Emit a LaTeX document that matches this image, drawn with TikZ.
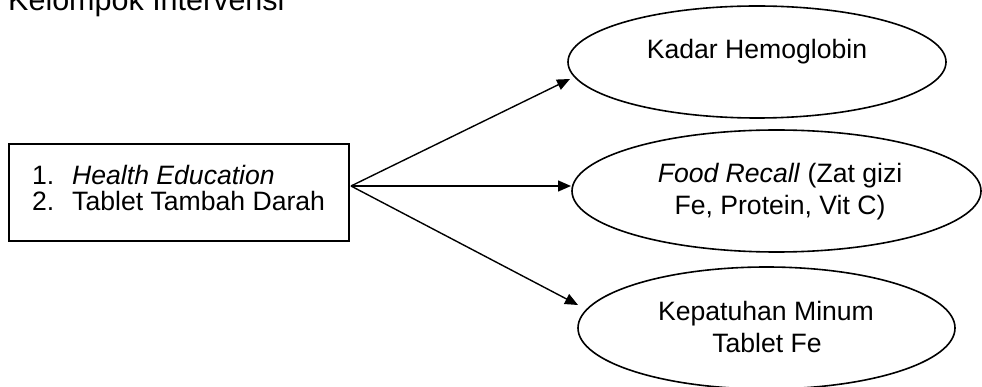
\documentclass[tikz,border=0pt]{standalone}
\usepackage{fontspec}
\setmainfont{Liberation Sans}
\usetikzlibrary{shapes.geometric,arrows.meta}
\begin{document}
\begin{tikzpicture}[x=1pt,y=-1pt,
  oval/.style={draw,ellipse,line width=1.6pt,inner sep=0pt},
  txt/.style={inner sep=0pt,anchor=base,font=\fontsize{26.6}{30}\selectfont},
  ltxt/.style={inner sep=0pt,anchor=base west,font=\fontsize{26.6}{30}\selectfont},
  arr/.style={line width=1.4pt,-{Triangle[length=13pt,width=11pt]}}]
\useasboundingbox (0,0) rectangle (982,387);
% title
\node[inner sep=0pt,anchor=base west,font=\fontsize{30.5}{34}\selectfont] (title) at (8,11) {Kelompok Intervensi};
% box
\node[draw,line width=2pt,minimum width=340pt,minimum height=97pt,inner sep=0pt] (box) at (179,192.5) {};
\node[ltxt] (n1) at (32,185) {1.};
\node[ltxt] (l1) at (72,185) {\itshape Health Education};
\node[ltxt] (n2) at (32,211) {2.};
\node[ltxt] (l2) at (72,211) {Tablet Tambah Darah};
% ellipses
\node[oval,minimum width=378pt,minimum height=112pt] (e1) at (757,62) {};
\node[oval,minimum width=409pt,minimum height=122pt] (e2) at (776.5,191) {};
\node[oval,minimum width=377pt,minimum height=122pt] (e3) at (766.5,328) {};
\node[txt] (t1) at (757,59) {Kadar Hemoglobin};
\node[txt] (t2a) at (780,183) {\textit{Food Recall} (Zat gizi};
\node[txt] (t2b) at (780,215) {Fe, Protein, Vit C)};
\node[txt] (t3a) at (766,320) {Kepatuhan Minum};
\node[txt] (t3b) at (767,352) {Tablet Fe};
% arrows
\coordinate (src) at (351,186);
\coordinate (a1) at (570,79);
\coordinate (a2) at (571,186);
\coordinate (a3) at (578,305);
\draw[arr] (src) -- (a1);
\draw[arr] (src) -- (a2);
\draw[arr] (src) -- (a3);
\end{tikzpicture}
\end{document}
